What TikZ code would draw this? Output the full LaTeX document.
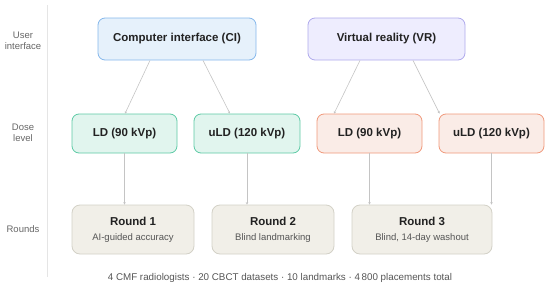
\documentclass[tikz,border=0pt]{standalone}
\usepackage{fontspec}
\setmainfont{Liberation Sans}
\usetikzlibrary{arrows.meta,positioning,calc}
\definecolor{ciFill}{HTML}{E6F1FB}
\definecolor{ciLine}{HTML}{85B7EB}
\definecolor{vrFill}{HTML}{EEEDFE}
\definecolor{vrLine}{HTML}{AFA9EC}
\definecolor{tealFill}{HTML}{E1F5EE}
\definecolor{tealLine}{HTML}{5DCAA5}
\definecolor{coralFill}{HTML}{FAECE7}
\definecolor{coralLine}{HTML}{F0997B}
\definecolor{roundFill}{HTML}{F1EFE8}
\definecolor{roundLine}{HTML}{D3D1C7}
\definecolor{linkGray}{HTML}{C4C4C4}
\definecolor{textDark}{HTML}{222222}
\definecolor{textSoft}{HTML}{555555}
\tikzset{
  box/.style={draw, rounded corners=7pt, line width=0.8pt, align=center,
    text=textDark, font=\bfseries\fontsize{11.5}{13}\selectfont},
  cibox/.style={box, fill=ciFill, draw=ciLine, minimum width=158pt, minimum height=42pt},
  vrbox/.style={box, fill=vrFill, draw=vrLine, minimum width=157pt, minimum height=42pt},
  tealbox/.style={box, fill=tealFill, draw=tealLine, minimum width=105pt, minimum height=39pt},
  coralbox/.style={box, fill=coralFill, draw=coralLine, minimum width=105pt, minimum height=39pt},
  roundbox/.style={box, fill=roundFill, draw=roundLine, rounded corners=8pt,
    minimum height=49pt},
  rowlabel/.style={align=center, text=textSoft!90, font=\fontsize{9.5}{11.5}\selectfont},
  link/.style={draw=linkGray, line width=0.6pt, -{Stealth[length=2.5pt,width=2.5pt]}}
}
\begin{document}
\begin{tikzpicture}[x=1pt,y=-1pt]
    \useasboundingbox (0,0) rectangle (550,290);
    % Row labels and separator
    \node[rowlabel] (lui) at (23,41) {User\\interface};
    \node[rowlabel] (ldose) at (23,133) {Dose\\level};
    \node[rowlabel] (lround) at (23,229) {Rounds};
    \draw[black!10, line width=0.6pt] (47,5) -- (47,277);
    % User interface
    \node[cibox] (ci) at (177,39) {Computer interface (CI)};
    \node[vrbox] (vr) at (386.5,39) {Virtual reality (VR)};
    % Dose level
    \node[tealbox] (ldci) at (124.5,133.5) {LD (90 kVp)};
    \node[tealbox, minimum width=106pt] (uldci) at (247,133.5) {uLD (120 kVp)};
    \node[coralbox] (ldvr) at (369.5,133.5) {LD (90 kVp)};
    \node[coralbox] (uldvr) at (491.5,133.5) {uLD (120 kVp)};
    % Rounds
    \node[roundbox, minimum width=122pt] (rone) at (133,229.5)
      {Round 1\\[2pt]{\mdseries\fontsize{9.5}{11}\selectfont\color{textSoft}AI-guided accuracy}};
    \node[roundbox, minimum width=122pt] (rtwo) at (273,229.5)
      {Round 2\\[2pt]{\mdseries\fontsize{9.5}{11}\selectfont\color{textSoft}Blind landmarking}};
    \node[roundbox, minimum width=140pt] (rthree) at (422,229.5)
      {Round 3\\[2pt]{\mdseries\fontsize{9.5}{11}\selectfont\color{textSoft}Blind, 14-day washout}};
    % Links interface -> dose
    \draw[link] ([xshift=-27pt]ci.south) -- ([xshift=0.5pt]ldci.north);
    \draw[link] ([xshift=26pt]ci.south) -- ([xshift=-17pt]uldci.north);
    \draw[link] ([xshift=-26.5pt]vr.south) -- ([xshift=-35.5pt]ldvr.north);
    \draw[link] ([xshift=26.5pt]vr.south) -- ([xshift=1pt]uldvr.north west);
    % Links dose -> rounds
    \draw[link] (ldci.south) -- (ldci.south |- rone.north);
    \draw[link] (uldci.south) -- (uldci.south |- rtwo.north);
    \draw[link] (ldvr.south) -- (ldvr.south |- rthree.north);
    \draw[link] (uldvr.south) -- (uldvr.south |- rthree.north);
    % Footer
    \node[text=textSoft, font=\fontsize{9.8}{12}\selectfont] (foot) at (280,278)
      {4 CMF radiologists \textperiodcentered{} 20 CBCT datasets \textperiodcentered{} 10 landmarks \textperiodcentered{} 4\,800 placements total};
\end{tikzpicture}
\end{document}
